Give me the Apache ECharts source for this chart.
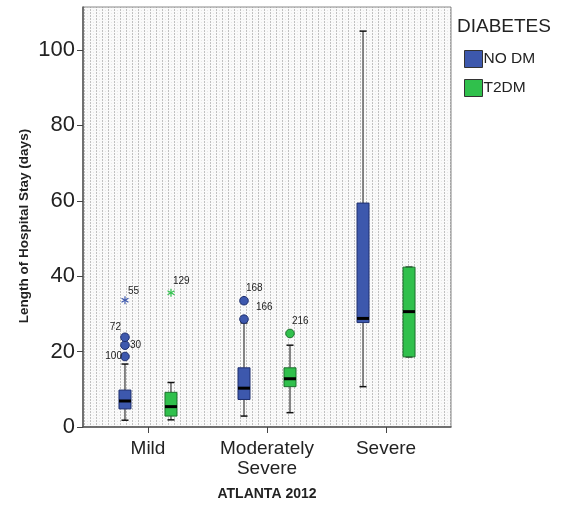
<!DOCTYPE html>
<html><head><meta charset="utf-8">
<script src="https://cdn.jsdelivr.net/npm/echarts@6/dist/echarts.min.js"></script>
<style>html,body{margin:0;padding:0;background:#fff}#c{width:564px;height:510px}</style>
</head><body><div id="c"></div>
<script>
// ---- data ----
const categories = ['Mild', 'Moderately\nSevere', 'Severe'];
const groups = ['NO DM', 'T2DM'];
// [category index, min, Q1, median, Q3, max]
const noDmBox = [[0, 1.8, 4.8, 6.9, 9.8, 16.7], [1, 2.9, 7.3, 10.3, 15.7, 27.6], [2, 10.7, 27.7, 28.8, 59.4, 105]];
const t2dmBox = [[0, 1.9, 2.9, 5.4, 9.2, 11.8], [1, 3.8, 10.7, 12.8, 15.7, 21.7], [2, 18.6, 18.6, 30.6, 42.4, 42.4]];
// [category index, value, case id]
const noDmOutliers = [[0, 18.7, '100'], [0, 21.7, '30'], [0, 23.8, '72'], [1, 28.6, '166'], [1, 33.5, '168']];
const noDmExtremes = [[0, 33.6, '55']];
const t2dmOutliers = [[1, 24.8, '216']];
const t2dmExtremes = [[0, 35.6, '129']];
const yTicks = [0, 20, 40, 60, 80, 100];
const yTitle = 'Length of Hospital Stay (days)';
const xTitle = 'ATLANTA 2012';
const legendTitle = 'DIABETES';

// ---- styles ----
const colors = { 'NO DM': '#3d58ad', 'T2DM': '#30c04c' };
const borders = { 'NO DM': '#1e2f6e', 'T2DM': '#1c6e2c' };
const groupOffset = { 'NO DM': -23, 'T2DM': 23 };
const labelPlace = { '55': [3, -9, 'left'], '129': [2, -12, 'left'], '72': [-4, -10, 'right'], '30': [5, 0, 'left'],
  '100': [-3, 0, 'right'], '168': [2, -12, 'left'], '166': [12, -12, 'left'], '216': [2, -12, 'left'] };
const font = 'Liberation Sans, Arial, sans-serif';

// background dotted pattern
const pc = document.createElement('canvas');
pc.width = 6; pc.height = 3;
const pctx = pc.getContext('2d');
pctx.fillStyle = '#fafafa'; pctx.fillRect(0, 0, 6, 3);
pctx.fillStyle = '#c0c0c0'; pctx.fillRect(0, 0, 1, 2);
pctx.fillStyle = '#e6e6e6'; pctx.fillRect(3, 1, 1, 1);

function boxRender(name) {
  const off = groupOffset[name], color = colors[name], bc = borders[name];
  return function (params, api) {
    const c = api.value(0);
    const x = api.coord([c, 0])[0] + off;
    const y = i => api.coord([c, api.value(i)])[1];
    const yMin = y(1), yQ1 = y(2), yMed = y(3), yQ3 = y(4), yMax = y(5);
    const hw = 6, cw = 3.5;
    const ln = (x1, y1, x2, y2, w, s) => ({ type: 'line', shape: { x1, y1, x2, y2 }, style: { stroke: s || '#111', lineWidth: w } });
    return { type: 'group', children: [
      ln(x, yMax, x, yQ3, 1), ln(x, yQ1, x, yMin, 1),
      ln(x - cw, yMax, x + cw, yMax, 1.5), ln(x - cw, yMin, x + cw, yMin, 1.5),
      { type: 'rect', shape: { x: x - hw, y: yQ3, width: hw * 2, height: yQ1 - yQ3 }, style: { fill: color, stroke: bc, lineWidth: 1 } },
      ln(x - hw, yMed, x + hw, yMed, 3, '#000')
    ] };
  };
}

function outlierRender(name, star, list) {
  const off = groupOffset[name], color = colors[name], bc = borders[name];
  return function (params, api) {
    const c = api.value(0);
    const pt = api.coord([c, api.value(1)]);
    const x = pt[0] + off, y = pt[1];
    const id = String(list[params.dataIndex][2]);
    const lp = labelPlace[id] || [4, -8, 'left'];
    const children = [];
    if (star) {
      const r = 4;
      for (let a = 0; a < 3; a++) {
        const ang = Math.PI / 2 + a * Math.PI / 3;
        children.push({ type: 'line', shape: { x1: x - r * Math.cos(ang), y1: y - r * Math.sin(ang), x2: x + r * Math.cos(ang), y2: y + r * Math.sin(ang) }, style: { stroke: color, lineWidth: 1.2 } });
      }
    } else {
      children.push({ type: 'circle', shape: { cx: x, cy: y, r: 4.3 }, style: { fill: color, stroke: bc, lineWidth: 1 } });
    }
    children.push({ type: 'text', x: x + lp[0], y: y + lp[1], style: { text: id, fontSize: 10, fontFamily: font, fill: '#222', align: lp[2], verticalAlign: 'middle' } });
    return { type: 'group', children };
  };
}

const chart = echarts.init(document.getElementById('c'), null, { renderer: 'canvas' });
chart.setOption({
  animation: false,
  backgroundColor: '#fff',
  title: [
    { text: legendTitle, left: 457, top: 17, padding: 0, textStyle: { fontSize: 19, fontWeight: 'normal', color: '#222', fontFamily: font } },
    { text: xTitle, left: 267, top: 487, padding: 0, textAlign: 'center', textStyle: { fontSize: 14, fontWeight: 'bold', color: '#222', fontFamily: font } }
  ],
  graphic: [
    { type: 'text', x: 24, y: 226, rotation: Math.PI / 2, style: { text: yTitle, fontSize: 13.5, fontWeight: 'bold', fill: '#222', fontFamily: font, align: 'center', verticalAlign: 'middle' } }
  ],
  legend: {
    data: groups, orient: 'vertical', left: 464, top: 50, padding: 0, icon: 'rect', itemWidth: 18, itemHeight: 17, itemGap: 11,
    itemStyle: { borderColor: '#333', borderWidth: 1 },
    textStyle: { fontSize: 15.5, color: '#222', fontFamily: font, padding: [0, 0, 0, -4] }
  },
  grid: { left: 83, right: 113, top: 7, bottom: 83, show: true, borderColor: '#888', borderWidth: 1,
    backgroundColor: { image: pc, repeat: 'repeat' } },
  xAxis: {
    type: 'value', min: -0.546, max: 2.546,
    axisLine: { show: true, onZero: false, lineStyle: { color: '#555', width: 1.5 } },
    axisTick: { show: true, length: 6, lineStyle: { color: '#444' }, customValues: [0, 1, 2] },
    axisLabel: { customValues: [0, 1, 2], formatter: v => categories[Math.round(v)], fontSize: 19, color: '#222', fontFamily: font, margin: 12, lineHeight: 20 },
    splitLine: { show: false }
  },
  yAxis: {
    type: 'value', min: 0, max: 111.4,
    axisLine: { show: true, onZero: false, lineStyle: { color: '#555', width: 1.5 } },
    axisTick: { show: true, length: 6, lineStyle: { color: '#444' }, customValues: yTicks },
    axisLabel: { customValues: yTicks, fontSize: 22, color: '#222', fontFamily: font, margin: 8 },
    splitLine: { show: false }
  },
  series: [
    { name: 'NO DM', type: 'custom', renderItem: boxRender('NO DM'), data: noDmBox, encode: { x: 0, y: [1, 2, 3, 4, 5] },
      itemStyle: { color: colors['NO DM'] }, z: 3 },
    { name: 'T2DM', type: 'custom', renderItem: boxRender('T2DM'), data: t2dmBox, encode: { x: 0, y: [1, 2, 3, 4, 5] },
      itemStyle: { color: colors['T2DM'] }, z: 3 },
    { name: 'NO DM', type: 'custom', renderItem: outlierRender('NO DM', false, noDmOutliers), data: noDmOutliers, encode: { x: 0, y: 1 }, itemStyle: { color: colors['NO DM'] }, z: 4 },
    { name: 'NO DM', type: 'custom', renderItem: outlierRender('NO DM', true, noDmExtremes), data: noDmExtremes, encode: { x: 0, y: 1 }, itemStyle: { color: colors['NO DM'] }, z: 4 },
    { name: 'T2DM', type: 'custom', renderItem: outlierRender('T2DM', false, t2dmOutliers), data: t2dmOutliers, encode: { x: 0, y: 1 }, itemStyle: { color: colors['T2DM'] }, z: 4 },
    { name: 'T2DM', type: 'custom', renderItem: outlierRender('T2DM', true, t2dmExtremes), data: t2dmExtremes, encode: { x: 0, y: 1 }, itemStyle: { color: colors['T2DM'] }, z: 4 }
  ]
});
</script></body></html>
